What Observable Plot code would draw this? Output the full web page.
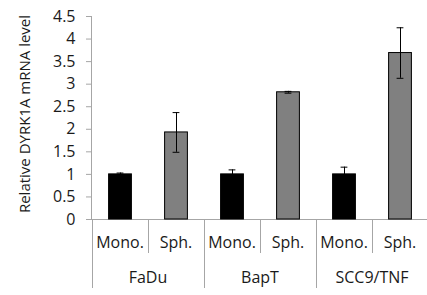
<!DOCTYPE html>
<html><head><meta charset="utf-8">
<script src="https://cdn.jsdelivr.net/npm/d3@7"></script>
<script src="https://cdn.jsdelivr.net/npm/@observablehq/plot@0.6"></script>
<style>
html,body{margin:0;padding:0;background:#fff;overflow:hidden}
</style></head><body><div id="chart"></div>
<script>
const groups = ["FaDu", "BapT", "SCC9/TNF"];
const conditions = ["Mono.", "Sph."];
const means = [1.00, 1.93, 1.00, 2.82, 1.00, 3.69];
const errors = [0.03, 0.44, 0.10, 0.02, 0.16, 0.56];
const yTicks = [0, 0.5, 1, 1.5, 2, 2.5, 3, 3.5, 4, 4.5];
const yTickLabels = ["0", "0.5", "1", "1.5", "2", "2.5", "3", "3.5", "4", "4.5"];
const yTitle = "Relative DYRK1A mRNA level";
const barColors = ["#000000", "#808080"];

const data = [];
groups.forEach((g, gi) => conditions.forEach((c, ci) => {
  const i = gi * conditions.length + ci;
  data.push({key: g + "|" + c, group: g, cond: c, ci, value: means[i], err: errors[i]});
}));
const keys = data.map(d => d.key);
const axisGray = "#a6a6a6";
const textColor = "#1a1a1a";

function categoryAxis(index, scales, values, dims) {
  const x = scales.x;
  const bw = x.bandwidth ? x.bandwidth() : (dims.width - dims.marginLeft - dims.marginRight) / keys.length;
  const y0 = dims.height - dims.marginBottom;
  const g = d3.create("svg:g");
  g.append("line").attr("x1", dims.marginLeft + 0.5).attr("x2", dims.marginLeft + 0.5)
    .attr("y1", dims.marginTop).attr("y2", y0).attr("stroke", axisGray);
  data.forEach(d => {
    const left = Math.round(x(d.key)) + 0.5;
    const groupStart = d.ci === 0;
    g.append("line").attr("x1", left).attr("x2", left)
      .attr("y1", y0).attr("y2", y0 + (groupStart ? 69 : 34)).attr("stroke", axisGray);
    g.append("text").attr("x", x(d.key) + bw / 2).attr("y", y0 + 29)
      .attr("text-anchor", "middle").attr("fill", textColor).text(d.cond);
  });
  groups.forEach(gr => {
    const first = x(gr + "|" + conditions[0]);
    g.append("text").attr("x", first + bw * conditions.length / 2).attr("y", y0 + 64)
      .attr("text-anchor", "middle").attr("fill", textColor).text(gr);
  });
  const last = x(keys[keys.length - 1]) + bw;
  g.append("line").attr("x1", Math.round(last) + 0.5).attr("x2", Math.round(last) + 0.5)
    .attr("y1", y0).attr("y2", y0 + 69).attr("stroke", axisGray);
  return g.node();
}

const chart = Plot.plot({
  width: 427,
  height: 295,
  marginLeft: 91,
  marginRight: -1,
  marginTop: 16,
  marginBottom: 76,
  style: {fontFamily: "'Open Sans', sans-serif", fontSize: "16px", color: textColor, background: "#fff"},
  x: {domain: keys, padding: 0, axis: null},
  y: {domain: [0, 4.5], axis: null},
  marks: [
    Plot.axisY({ticks: yTicks, tickFormat: d => yTickLabels[yTicks.indexOf(d)], tickSize: 5, tickPadding: 11,
      stroke: axisGray, fill: textColor, label: null}),
    Plot.ruleY([0], {stroke: axisGray}),
    Plot.barY(data, {x: "key", y: "value", fill: d => barColors[d.ci], stroke: "#000", strokeWidth: 1,
      insetLeft: 16.6, insetRight: 16.6}),
    Plot.ruleX(data, {x: "key", y1: d => d.value - d.err, y2: d => d.value + d.err, stroke: "#000", strokeWidth: 1}),
    Plot.tickY(data, {x: "key", y: d => d.value + d.err, stroke: "#000", insetLeft: 24.6, insetRight: 24.6}),
    Plot.tickY(data, {x: "key", y: d => d.value - d.err, stroke: "#000", insetLeft: 24.6, insetRight: 24.6}),
    Plot.text([yTitle], {frameAnchor: "left", rotate: -90, dx: -66, dy: -4, text: d => d, fill: textColor,
      textAnchor: "middle", fontSize: 15}),
    categoryAxis
  ]
});
document.getElementById("chart").appendChild(chart);
</script>
</body></html>
